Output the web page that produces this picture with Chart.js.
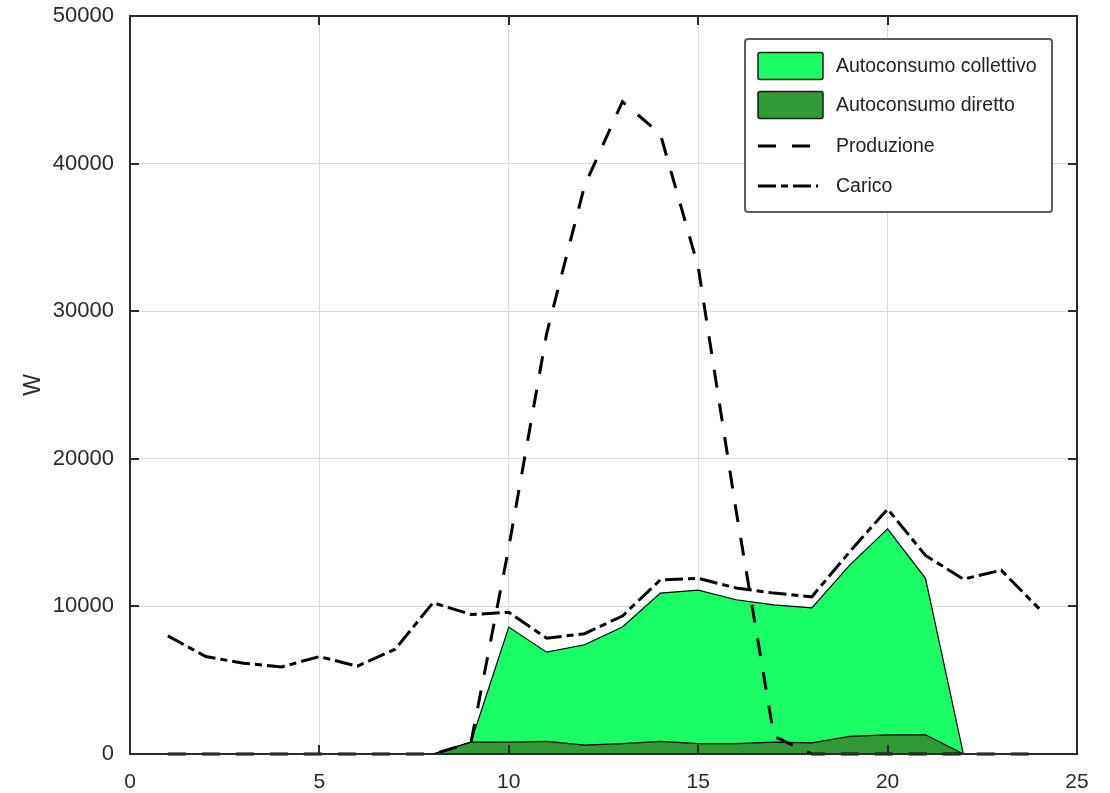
<!DOCTYPE html>
<html>
<head>
<meta charset="utf-8">
<script src="https://cdn.jsdelivr.net/npm/chart.js@4/dist/chart.umd.min.js"></script>
<style>
  html, body { margin: 0; padding: 0; background: #ffffff; }
  #wrap { width: 1110px; height: 793px; }
</style>
</head>
<body>
<div id="wrap"><canvas id="grafico" width="1110" height="793"></canvas></div>
<script>
// Ore del giorno
const ore = [1, 2, 3, 4, 5, 6, 7, 8, 9, 10, 11, 12, 13, 14, 15, 16, 17, 18, 19, 20, 21, 22, 23, 24];

// Potenze orarie [W]
const produzione = [0, 0, 0, 0, 0, 0, 0, 0, 750, 14000, 28500, 38500, 44200, 42000, 33000, 16500, 1200, 0, 0, 0, 0, 0, 0, 0];
const carico = [8000, 6600, 6150, 5900, 6600, 5950, 7100, 10250, 9450, 9600, 7850, 8150, 9350, 11800, 11900, 11250, 10900, 10650, 13700, 16600, 13450, 11850, 12450, 9850];
const autoconsumoDiretto = [0, 0, 0, 0, 0, 0, 0, 0, 800, 800, 850, 600, 700, 850, 700, 700, 800, 750, 1200, 1300, 1300, 0, 0, 0];
const autoconsumoCollettivo = [0, 0, 0, 0, 0, 0, 0, 0, 0, 7800, 6050, 6800, 7900, 10050, 10400, 9750, 9300, 9150, 11600, 13950, 10600, 0, 0, 0];

// Etichette degli assi
const xTicks = [0, 5, 10, 15, 20, 25];
const yTicks = [0, 10000, 20000, 30000, 40000, 50000];
const yTitle = 'W';

const punti = (valori) => ore.map((h, i) => ({ x: h, y: valori[i] }));

const FONT = 'Liberation Sans, Arial, Helvetica, sans-serif';
const TESTO = '#2a2a2a';

// Cornice chiusa con tacche rivolte verso l'interno
const cornice = {
  id: 'cornice',
  afterDatasetsDraw(chart) {
    const { ctx, chartArea: a, scales } = chart;
    const tacca = 9;
    ctx.save();
    ctx.strokeStyle = '#2b2b2b';
    ctx.lineWidth = 2;
    ctx.beginPath();
    xTicks.forEach(v => {
      const px = Math.round(scales.x.getPixelForValue(v));
      ctx.moveTo(px, a.bottom); ctx.lineTo(px, a.bottom - tacca);
      ctx.moveTo(px, a.top); ctx.lineTo(px, a.top + tacca);
    });
    yTicks.forEach(v => {
      const py = Math.round(scales.y.getPixelForValue(v));
      ctx.moveTo(a.left, py); ctx.lineTo(a.left + tacca, py);
      ctx.moveTo(a.right, py); ctx.lineTo(a.right - tacca, py);
    });
    ctx.stroke();
    ctx.strokeRect(a.left, a.top, a.right - a.left, a.bottom - a.top);
    ctx.restore();
  }
};

// Legenda riquadrata nell'angolo in alto a destra
const legendaRiquadro = {
  id: 'legendaRiquadro',
  afterDraw(chart) {
    const { ctx, chartArea: a } = chart;
    const ds = chart.data.datasets;
    const ordine = [3, 2, 0, 1];
    const w = 307, h = 173;
    const x0 = a.right - 25 - w, y0 = a.top + 23;
    ctx.save();
    ctx.fillStyle = '#ffffff';
    ctx.strokeStyle = '#5e5e5e';
    ctx.lineWidth = 2;
    ctx.beginPath();
    ctx.roundRect(x0, y0, w, h, 3);
    ctx.fill();
    ctx.stroke();

    const righe = [27, 66, 107, 147];
    const sx = x0 + 13, sw = 65;
    ordine.forEach((k, i) => {
      const d = ds[k];
      const cy = y0 + righe[i];
      if (d.fill) {
        ctx.setLineDash([]);
        ctx.fillStyle = d.backgroundColor;
        ctx.strokeStyle = '#1a1a1a';
        ctx.lineWidth = 1.5;
        ctx.beginPath();
        ctx.roundRect(sx, cy - 13.5, sw, 27, 2);
        ctx.fill();
        ctx.stroke();
      } else {
        ctx.strokeStyle = d.borderColor;
        ctx.lineWidth = d.borderWidth;
        ctx.setLineDash(d.borderDash);
        ctx.beginPath();
        ctx.moveTo(sx, cy);
        ctx.lineTo(sx + 60, cy);
        ctx.stroke();
      }
      ctx.setLineDash([]);
      ctx.fillStyle = '#222222';
      ctx.font = '19.5px ' + FONT;
      ctx.textBaseline = 'middle';
      ctx.textAlign = 'left';
      ctx.fillText(d.label, x0 + 91, cy + 1);
    });
    ctx.restore();
  }
};

const comuniLinea = { pointRadius: 0, pointHoverRadius: 0, tension: 0, clip: false };

new Chart(document.getElementById('grafico'), {
  type: 'line',
  data: {
    datasets: [
      { ...comuniLinea, label: 'Produzione', data: punti(produzione), stack: 'prod',
        borderColor: '#000000', borderWidth: 3, borderDash: [18, 16], fill: false },
      { ...comuniLinea, label: 'Carico', data: punti(carico), stack: 'car',
        borderColor: '#000000', borderWidth: 3, borderDash: [18, 5, 7, 5], fill: false },
      { ...comuniLinea, label: 'Autoconsumo diretto', data: punti(autoconsumoDiretto), stack: 'auto',
        borderColor: '#000000', borderWidth: 1.2, backgroundColor: '#329a35', fill: 'origin' },
      { ...comuniLinea, label: 'Autoconsumo collettivo', data: punti(autoconsumoCollettivo), stack: 'auto',
        borderColor: '#000000', borderWidth: 1.2, backgroundColor: '#1aff66', fill: '-1' }
    ]
  },
  options: {
    responsive: false,
    animation: false,
    devicePixelRatio: 1,
    layout: { padding: { top: 16, right: 33, left: 0, bottom: 0 } },
    plugins: {
      legend: { display: false },
      tooltip: { enabled: false }
    },
    scales: {
      x: {
        type: 'linear',
        min: 0, max: 25,
        afterBuildTicks: (s) => { s.ticks = xTicks.map(v => ({ value: v })); },
        afterFit: (s) => { s.height = 39; s.paddingLeft = 0; s.paddingRight = 0; },
        grid: { color: '#dadada', lineWidth: 1, drawTicks: false },
        border: { display: false },
        ticks: { padding: 16, color: TESTO, font: { family: FONT, size: 21 }, callback: (v) => String(v) }
      },
      y: {
        type: 'linear',
        stacked: true,
        min: 0, max: 50000,
        afterBuildTicks: (s) => { s.ticks = yTicks.map(v => ({ value: v })); },
        afterFit: (s) => { s.width = 130; s.paddingTop = 0; s.paddingBottom = 0; },
        grid: { color: '#dadada', lineWidth: 1, drawTicks: false },
        border: { display: false },
        ticks: { padding: 16, color: TESTO, font: { family: FONT, size: 22 }, callback: (v) => String(v) },
        title: { display: true, text: yTitle, color: TESTO, font: { family: FONT, size: 23 }, padding: { top: 20, bottom: 0 } }
      }
    }
  },
  plugins: [cornice, legendaRiquadro]
});
</script>
</body>
</html>
